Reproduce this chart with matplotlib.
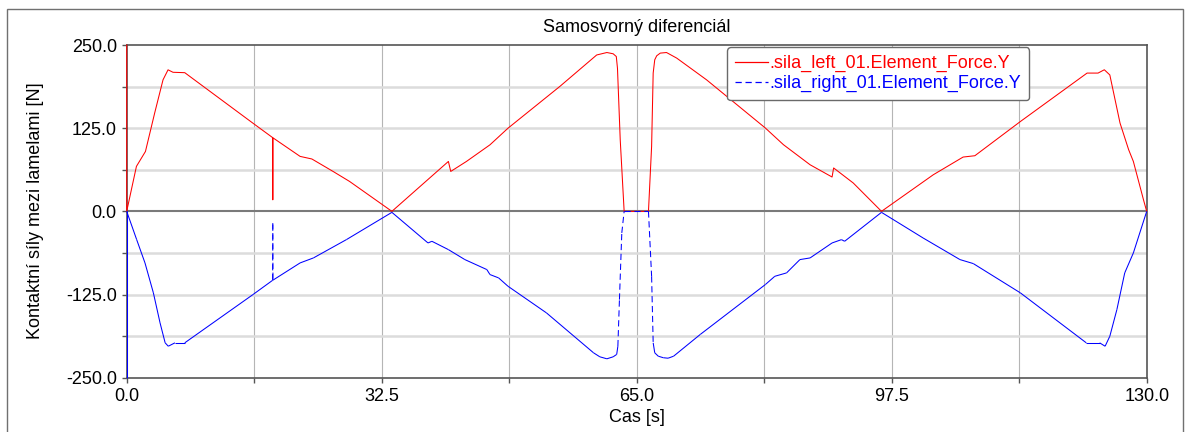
import numpy as np
import matplotlib
matplotlib.use("Agg")
import matplotlib.pyplot as plt
from matplotlib.collections import LineCollection
from matplotlib.lines import Line2D
from matplotlib.patches import Rectangle
from matplotlib.ticker import MultipleLocator, FormatStrFormatter

plt.rcParams['font.family'] = ['Liberation Sans', 'DejaVu Sans']

title = "Samosvorný diferenciál"
x_label = "Cas [s]"
y_label = "Kontaktní síly mezi lamelami [N]"
label_left = ".sila_left_01.Element_Force.Y"
label_right = ".sila_right_01.Element_Force.Y"

# contact force on the left plate stack
t_left = [0, 0, 1.24, 2.39, 3.57, 4.63, 5.27, 5.9, 7.4, 16.1, 18.6, 18.62, 18.64,
          22.1, 23.6, 26.3, 28.4, 33.8, 41.0, 41.3, 43.3, 46.3, 48.6, 55.2, 59.9,
          61.2, 62.0, 62.4, 62.55, 62.9, 63.4, 66.5, 66.9, 67.1, 67.3, 67.55, 68.0,
          68.8, 70.1, 73.9, 81.4, 83.7, 87.1, 89.9, 90.1, 92.6, 96.2, 102.8, 106.6,
          108.1, 113.9, 122.4, 123.8, 124.6, 125.3, 126.6, 127.7, 128.3, 129.6, 130.0]
f_left = [250, 0, 67.6, 90, 148, 197.7, 212.7, 209, 208.4, 132.4, 110.8, 17.3, 110.5,
          82.6, 78.7, 60, 45, 0, 75, 60, 75, 100, 125, 187.7, 235,
          238.7, 236.8, 232.7, 215, 107.7, 0, 0, 97.6, 207.8, 227.8, 233.8, 237.8,
          238.7, 230.3, 197.7, 125.2, 100.2, 70, 51.6, 65.2, 42.6, 0, 55, 81.6,
          83.6, 135, 207.8, 207.8, 212.8, 205, 132.7, 92.6, 75, 17, 0]

# contact force on the right plate stack
t_right = [0, 0, 1.27, 2.33, 3.4, 4.25, 4.9, 5.3, 6.15, 7.4, 16.1, 18.6, 18.62, 18.64,
           22.1, 23.8, 28.0, 33.8, 38.4, 38.9, 41.0, 43.1, 45.9, 46.3, 47.4, 48.6,
           53.5, 59.5, 60.3, 61.2, 62.0, 62.45, 62.6, 62.8, 63.1, 63.4, 66.5, 66.9,
           67.1, 67.3, 67.75, 68.4, 69.0, 69.7, 73.1, 81.4, 82.6, 84.1, 85.8, 87.1,
           89.9, 91.1, 91.5, 96.2, 101.5, 106.2, 107.9, 113.9, 122.3, 124.0, 124.7,
           125.3, 126.2, 127.2, 128.3, 130.0]
f_right = [-250, 0, -42.5, -77.5, -122.5, -167.6, -197.6, -202.7, -197.6, -197.6, -125,
           -103.6, -17.7, -103.4, -77.5, -70, -42.5, -1.5, -47.5, -45, -57.5, -72.5,
           -87.5, -95, -100, -112.6, -152.6, -212.6, -218.6, -221.6, -218.6, -215,
           -202.7, -132.6, -32.4, 0, 0, -97.6, -197.6, -212.6, -217.7, -220, -220.7,
           -217.7, -185, -110, -97.6, -92.5, -72.5, -70, -47.5, -42.5, -45, -1.5, -40,
           -72.5, -78.5, -122.5, -197.6, -197.6, -202.7, -187.7, -147.6, -92.5,
           -62.5, 0]

W, H = 1189, 432
fig = plt.figure(figsize=(W / 100, H / 100), dpi=100)
ax = fig.add_axes([126.7 / W, 1 - 377.7 / H, 1020 / W, 332.7 / H])

ax.set_xlim(0, 130)
ax.set_ylim(-250, 250)

# grid: thin darker verticals, wide light horizontals, dark zero line
for x in np.arange(16.25, 130, 16.25):
    ax.axvline(x, color="#b5b5b5", lw=0.8, zorder=1)
for y in np.arange(-187.5, 250, 62.5):
    if abs(y) > 1e-9:
        ax.axhline(y, color="#dcdcdc", lw=1.8, zorder=1)
ax.axhline(0, color="#7a7a7a", lw=1.5, zorder=2.5)

red = "#ff0000"
blue = "#0000ff"
lw = 0.75
ax.plot(t_left, f_left, color=red, lw=lw, zorder=3, clip_on=False)

# right curve: the dash pattern restarts per segment, so slow parts read solid
tr = np.asarray(t_right, float)
fr = np.asarray(f_right, float)
segs = np.stack([np.column_stack([tr[:-1], fr[:-1]]),
                 np.column_stack([tr[1:], fr[1:]])], axis=1)
dt = np.diff(tr)
df = np.diff(fr)
steep = ((np.abs(df) > 100 * np.abs(dt)) & (dt > 0)) | ((fr[:-1] == 0) & (fr[1:] == 0))
ax.add_collection(LineCollection(segs[~steep], colors=blue, linewidths=lw,
                                 zorder=3.1, clip_on=False))
ax.add_collection(LineCollection(segs[steep], colors=blue, linewidths=lw,
                                 linestyles=[(0, (6, 3.5))], zorder=3.1))

# axes frame and ticks
for s in ax.spines.values():
    s.set_color("#555555")
    s.set_linewidth(1.2)
ax.xaxis.set_major_locator(MultipleLocator(32.5))
ax.xaxis.set_minor_locator(MultipleLocator(16.25))
ax.yaxis.set_major_locator(MultipleLocator(125))
ax.yaxis.set_minor_locator(MultipleLocator(62.5))
ax.xaxis.set_major_formatter(FormatStrFormatter("%.1f"))
ax.yaxis.set_major_formatter(FormatStrFormatter("%.1f"))
ax.tick_params(which="both", direction="out", length=3.5, width=1,
               color="#555555", labelsize=13, pad=3.6)
ax.tick_params(axis="x", which="both", top=False)
ax.tick_params(axis="y", which="both", right=False)

ax.text(0.5, 1 + (45 - 28) / 332.7, title, transform=ax.transAxes,
        ha="center", va="center", fontsize=13)
fig.text(636.7 / W, 1 - 418 / H, x_label, ha="center", va="center", fontsize=13)
fig.text(36 / W, 1 - 211 / H, y_label, ha="center", va="center",
         rotation=90, fontsize=13)

handles = [Line2D([], [], color=red, lw=0.9),
           Line2D([], [], color=blue, lw=0.9, linestyle=(0, (5, 3)))]
leg = fig.legend(handles, [label_left, label_right], loc="upper left",
                 bbox_to_anchor=(727 / W, 1 - 47 / H), borderaxespad=0,
                 fontsize=13, labelcolor="linecolor", handlelength=1.8,
                 handletextpad=0.1, labelspacing=0.15, borderpad=0.45,
                 fancybox=True, framealpha=1)
leg.get_frame().set_edgecolor("#6a6a6a")
leg.get_frame().set_linewidth(1.0)
leg.set_zorder(5)

# outer panel border
fig.add_artist(Rectangle((6.5 / W, -0.05), (1183 - 6.5) / W, 1.05 - 9 / H,
                         transform=fig.transFigure, fill=False,
                         edgecolor="#707070", lw=1.0))

fig.savefig("out.png", dpi=100)
